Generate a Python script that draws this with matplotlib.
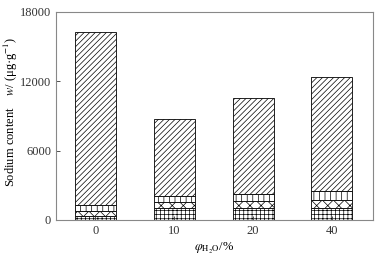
import matplotlib
matplotlib.use("Agg")
import matplotlib.pyplot as plt
import numpy as np

plt.rcParams['font.family'] = ['Liberation Serif', 'DejaVu Serif']
plt.rcParams['mathtext.fontset'] = 'stix'
plt.rcParams['hatch.linewidth'] = 0.5

categories = ['0', '10', '20', '40']
grid_part = [380, 1010, 1000, 1050]
cross_part = [400, 520, 620, 660]
vline_part = [560, 570, 600, 840]
total = [16270, 8740, 10560, 12380]

fig = plt.figure(figsize=(3.8, 2.59), dpi=100)
ax = fig.add_axes([56/380, 1 - 220/259, 317/380, 208/259])

x = np.arange(len(categories))
w = 0.52
bottom = np.zeros(len(categories))
layers = [(grid_part, '++++'), (cross_part, 'xxx'), (vline_part, '|||')]
for vals, h in layers:
    ax.bar(x, vals, w, bottom=bottom, facecolor='white', edgecolor='black',
           hatch=h, linewidth=0.6)
    bottom += np.array(vals)
rest = np.array(total) - bottom
ax.bar(x, rest, w, bottom=bottom, facecolor='white', edgecolor='black',
       hatch='//////', linewidth=0.6)

ax.set_xlim(-0.5, 3.52)
ax.set_ylim(0, 18000)
ax.set_yticks([0, 6000, 12000, 18000])
ax.set_xticks(x)
ax.set_xticklabels(categories)
ax.tick_params(direction='in', length=3, width=0.6, labelsize=9, colors='#333333')
for s in ax.spines.values():
    s.set_color('#888888')
    s.set_linewidth(0.8)

ax.set_ylabel(r'Sodium content    $w$/ (μg·g$^{-1}$)', fontsize=9)
ax.yaxis.set_label_coords(-0.112, 0.52)
ax.set_xlabel(r'$\varphi_{\mathrm{H_2O}}$/%', fontsize=9, labelpad=3)

fig.savefig('out.png', dpi=100)
